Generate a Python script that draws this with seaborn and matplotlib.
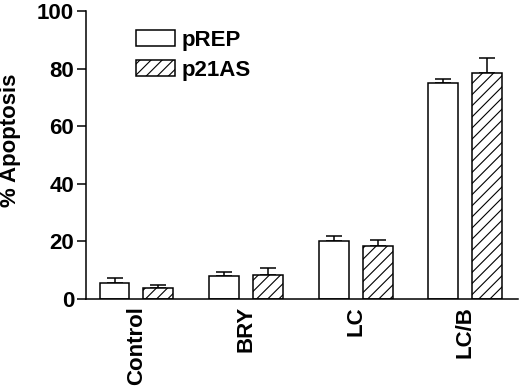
import matplotlib
matplotlib.use("Agg")
import matplotlib.pyplot as plt
import seaborn as sns
import pandas as pd
import numpy as np

categories = ["Control", "BRY", "LC", "LC/B"]
series = ["pREP", "p21AS"]
prep_vals = [5.6, 8.0, 20.1, 75.0]
prep_err = [1.7, 1.4, 1.8, 1.4]
p21_vals = [3.8, 8.4, 18.3, 78.6]
p21_err = [1.1, 2.3, 2.2, 5.2]
yticks = [0, 20, 40, 60, 80, 100]

df = pd.DataFrame({
    "cat": categories * 2,
    "series": [series[0]] * 4 + [series[1]] * 4,
    "val": prep_vals + p21_vals,
})

sns.set_theme(style="ticks")
plt.rcParams["font.family"] = ["Liberation Sans", "DejaVu Sans"]
plt.rcParams["font.weight"] = "bold"
plt.rcParams["text.color"] = "black"
plt.rcParams["axes.labelcolor"] = "black"
plt.rcParams["xtick.color"] = "black"
plt.rcParams["ytick.color"] = "black"
plt.rcParams["hatch.linewidth"] = 0.8

fig = plt.figure(figsize=(5.2, 3.89), dpi=100)
ax = fig.add_axes([0.1654, 0.2314, 0.996 - 0.1654, 0.9717 - 0.2314])

sns.barplot(data=df, x="cat", y="val", hue="series", order=categories,
            hue_order=series, palette=["white", "white"], edgecolor="black",
            linewidth=1.1, width=0.8, gap=0.32, errorbar=None, ax=ax,
            legend=False, zorder=2)

for i, (cont, errs) in enumerate(zip(ax.containers, [prep_err, p21_err])):
    xs = []
    ys = []
    for p in cont:
        if i == 1:
            p.set_hatch("///")
        xs.append(p.get_x() + p.get_width() / 2)
        ys.append(p.get_height())
    ax.errorbar(xs, ys, yerr=[np.zeros(len(errs)), errs], fmt="none",
                ecolor="black", elinewidth=1.1, capsize=5.8, capthick=1.1,
                zorder=1)

ax.set_xlim(-0.46, 3.48)
ax.set_ylim(0, 100)
ax.set_yticks(yticks)
ax.set_yticklabels([str(t) for t in yticks], fontsize=16, fontweight="bold")
ax.set_xticks(range(len(categories)))
ax.set_xticklabels(categories, rotation=90, fontsize=16, fontweight="bold")
ax.tick_params(axis="x", length=0, pad=5)
ax.tick_params(axis="y", length=6.5, width=1.1, pad=2)
ax.set_xlabel("")
ax.set_ylabel("% Apoptosis", fontsize=16, fontweight="bold")
ax.yaxis.set_label_coords(-0.15, 0.55)
for s in ["top", "right"]:
    ax.spines[s].set_visible(False)
for s in ["left", "bottom"]:
    ax.spines[s].set_linewidth(1.1)
    ax.spines[s].set_color("black")

handles = [ax.containers[0][0], ax.containers[1][0]]
leg = fig.legend(handles, series, loc="upper left",
                 bbox_to_anchor=(136 / 520, 1 - 30 / 389), frameon=False,
                 borderpad=0, borderaxespad=0, handlelength=1.75,
                 handleheight=0.75, handletextpad=0.3, labelspacing=0.4,
                 prop={"size": 16, "weight": "bold"})

fig.savefig("out.png", dpi=100)
